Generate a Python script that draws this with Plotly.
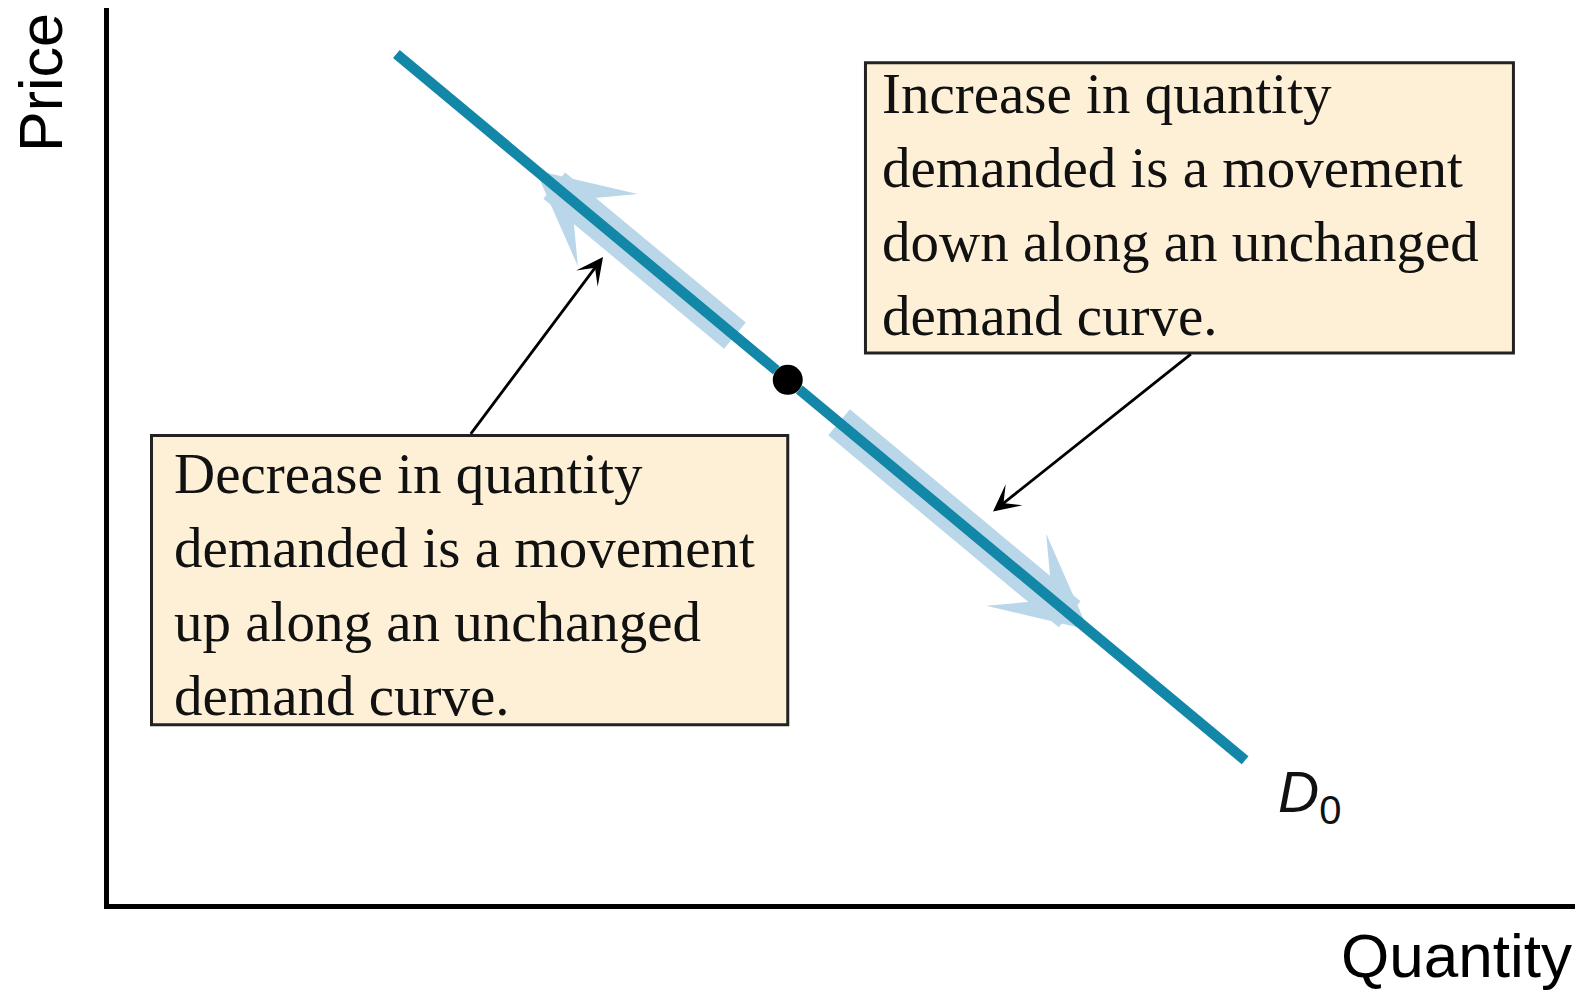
import plotly.graph_objects as go

# demand curve D0 (quantity on x, price on y, arbitrary units 0-100)
demand_q = [19.5, 77.6]
demand_p = [95.0, 15.9]

# starting point on the curve
point_q = [46.3]
point_p = [58.5]

# movements along the curve: [tail, tip]
up_q = [42.8, 29.1]
up_p = [63.3, 81.9]
down_q = [49.7, 66.8]
down_p = [53.9, 30.6]

# callout pointers: [tail, tip]
ptr_up_q = [24.6, 33.7]
ptr_up_p = [52.3, 72.2]
ptr_down_q = [73.9, 60.3]
ptr_down_p = [61.5, 43.8]

box_up_text = 'Decrease in quantity<br>demanded is a movement<br>up along an unchanged<br>demand curve.'
box_down_text = 'Increase in quantity<br>demanded is a movement<br>down along an unchanged<br>demand curve.'

curve_color = '#1287a8'
move_color = '#b9d7e8'
box_fill = '#fdf0d6'
serif = 'Liberation Serif'
sans = 'Liberation Sans'

fig = go.Figure()

# the point itself (line segments are drawn on top, stopping at its edge)
fig.add_trace(go.Scatter(
    x=point_q, y=point_p, mode='markers',
    marker=dict(color='black', size=30),
    hoverinfo='skip', showlegend=False,
))

annotations = []

# light arrows for the movements
for q, p in [(up_q, up_p), (down_q, down_p)]:
    annotations.append(dict(
        x=q[1], y=p[1], ax=q[0], ay=p[0],
        xref='x', yref='y', axref='x', ayref='y',
        text='', showarrow=True,
        arrowhead=3, arrowsize=0.46, arrowwidth=34, arrowcolor=move_color,
    ))

# demand curve, in two pieces meeting at the point
for i in range(2):
    annotations.append(dict(
        x=point_q[0], y=point_p[0], ax=demand_q[i], ay=demand_p[i],
        xref='x', yref='y', axref='x', ayref='y',
        text='', showarrow=True,
        arrowhead=0, arrowwidth=10.5, arrowcolor=curve_color, standoff=15,
    ))

# callout pointers
for q, p in [(ptr_up_q, ptr_up_p), (ptr_down_q, ptr_down_p)]:
    annotations.append(dict(
        x=q[1], y=p[1], ax=q[0], ay=p[0],
        xref='x', yref='y', axref='x', ayref='y',
        text='', showarrow=True,
        arrowhead=3, arrowsize=1.6, arrowwidth=2.8, arrowcolor='black',
    ))

# callout text
annotations.append(dict(
    x=52.7, y=94.0, xref='x', yref='y', xanchor='left', yanchor='top',
    text=box_down_text, showarrow=False, align='left',
    font=dict(family=serif, size=57, color='#111111'),
    borderpad=0, borderwidth=0,
))
annotations.append(dict(
    x=4.4, y=51.6, xref='x', yref='y', xanchor='left', yanchor='top',
    text=box_up_text, showarrow=False, align='left',
    font=dict(family=serif, size=57, color='#111111'),
    borderpad=0, borderwidth=0,
))

# curve label
annotations.append(dict(
    x=79.6, y=16.3, xref='x', yref='y', xanchor='left', yanchor='top',
    text='<i>D</i><sub>0</sub>', showarrow=False,
    font=dict(family=sans, size=57, color='#111111'),
))

# axis titles
annotations.append(dict(
    x=-0.046, y=0.917, xref='paper', yref='paper', xanchor='center', yanchor='middle',
    text='Price', textangle=-90, showarrow=False,
    font=dict(family=sans, size=61, color='black'),
))
annotations.append(dict(
    x=0.999, y=-0.017, xref='paper', yref='paper', xanchor='right', yanchor='top',
    text='Quantity', showarrow=False,
    font=dict(family=sans, size=62, color='black'),
))

# callout boxes
shapes = [
    dict(type='rect', xref='x', yref='y', x0=51.6, x1=95.8, y0=61.5, y1=93.9,
         fillcolor=box_fill, line=dict(color='#222222', width=3), layer='below'),
    dict(type='rect', xref='x', yref='y', x0=2.9, x1=46.3, y0=20.0, y1=52.3,
         fillcolor=box_fill, line=dict(color='#222222', width=3), layer='below'),
]

# the page puts the figure 8px in from the top-left corner
fig.update_layout(
    width=1575, height=987,
    margin=dict(l=101, r=8, t=0, b=91),
    paper_bgcolor='white', plot_bgcolor='white',
    annotations=annotations, shapes=shapes,
    showlegend=False, hovermode=False,
)
fig.update_xaxes(range=[0, 100], showgrid=False, zeroline=False, showticklabels=False,
                 ticks='', showline=True, linewidth=5, linecolor='black')
fig.update_yaxes(range=[0, 100], showgrid=False, zeroline=False, showticklabels=False,
                 ticks='', showline=True, linewidth=5, linecolor='black')

fig.write_html('out.html')
